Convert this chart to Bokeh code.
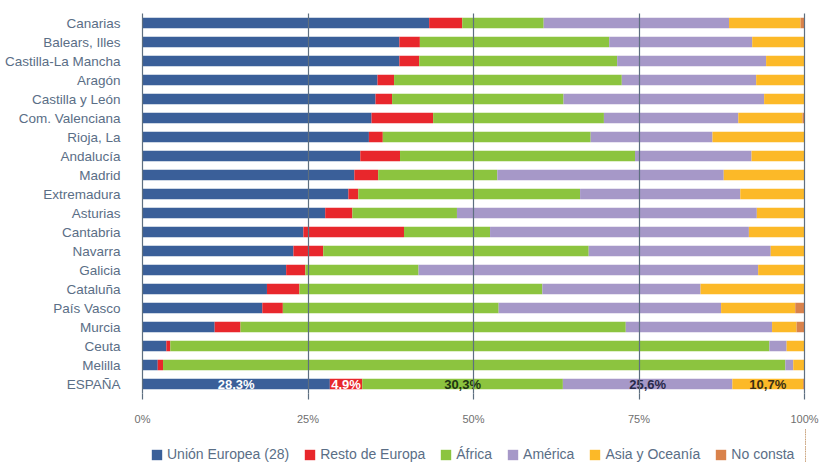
from bokeh.plotting import figure
from bokeh.layouts import column
from bokeh.models import ColumnDataSource, Range1d, FixedTicker, Legend, LegendItem
from bokeh.core.properties import value
from bokeh.embed import file_html
from bokeh.resources import INLINE

categories = ["Canarias", "Balears, Illes", "Castilla-La Mancha", "Aragón", "Castilla y León",
              "Com. Valenciana", "Rioja, La", "Andalucía", "Madrid", "Extremadura", "Asturias",
              "Cantabria", "Navarra", "Galicia", "Cataluña", "País Vasco", "Murcia", "Ceuta",
              "Melilla", "ESPAÑA"]

series_names = ["Unión Europea (28)", "Resto de Europa", "África", "América", "Asia y Oceanía", "No consta"]

union_europea = [43.3, 38.8, 38.8, 35.5, 35.2, 34.6, 34.2, 32.9, 32.0, 31.1, 27.6, 24.3, 22.8, 21.7, 18.8, 18.1, 10.9, 3.6, 2.3, 28.3]
resto_europa = [5.0, 3.1, 3.0, 2.5, 2.5, 9.3, 2.1, 6.0, 3.6, 1.5, 4.1, 15.2, 4.5, 2.9, 4.9, 3.1, 3.9, 0.6, 0.8, 4.9]
africa = [12.3, 28.6, 29.9, 34.4, 25.9, 25.8, 31.4, 35.5, 18.0, 33.5, 15.8, 13.0, 40.1, 17.1, 36.7, 32.6, 58.2, 90.5, 94.0, 30.3]
america = [28.0, 21.6, 22.5, 20.3, 30.3, 20.3, 18.4, 17.6, 34.2, 24.2, 45.3, 39.1, 27.5, 51.3, 23.9, 33.6, 22.1, 2.6, 1.2, 25.6]
asia_oceania = [10.8, 7.9, 5.8, 7.3, 6.1, 9.7, 13.9, 8.0, 12.2, 9.7, 7.2, 8.4, 5.1, 7.0, 15.7, 11.2, 3.7, 2.7, 1.7, 10.7]
no_consta = [0.6, 0.0, 0.0, 0.0, 0.0, 0.3, 0.0, 0.0, 0.0, 0.0, 0.0, 0.0, 0.0, 0.0, 0.0, 1.4, 1.2, 0.0, 0.0, 0.2]

espana_labels = ["28,3%", "4,9%", "30,3%", "25,6%", "10,7%"]
tick_values = [0, 25, 50, 75, 100]
tick_labels = ["0%", "25%", "50%", "75%", "100%"]

colors = ["#3a5f99", "#e8272c", "#8cc43f", "#a698c8", "#fcb928", "#d9824b"]
label_colors = ["#ffffff", "#ffffff", "#1e3512", "#28294a", "#3a2f14"]
slate = "#5e6f80"
text_col = "#5a6e86"

keys = ["ue", "re", "af", "am", "as", "nc"]
data = dict(cat=categories, ue=union_europea, re=resto_europa, af=africa,
            am=america, **{"as": asia_oceania}, nc=no_consta)
source = ColumnDataSource(data)

# ---------------- main chart ----------------
p = figure(width=823, height=428, y_range=list(reversed(categories)),
           x_range=Range1d(0, 100.15), output_backend="svg", toolbar_location=None,
           min_border_left=142, min_border_right=18, min_border_top=13, min_border_bottom=35)
p.outline_line_color = None

p.hbar_stack(keys, y="cat", height=0.54, color=colors, line_color=None, source=source)

# labels for the ESPAÑA bar, centred in each segment
esp = categories.index("ESPAÑA")
vals = [union_europea[esp], resto_europa[esp], africa[esp], america[esp], asia_oceania[esp]]
centers = []
acc = 0.0
for v in vals:
    centers.append(acc + v / 2)
    acc += v
lab_src = ColumnDataSource(dict(x=centers, y=["ESPAÑA"] * 5, t=espana_labels, c=label_colors))
p.text(x="x", y="y", text="t", text_color="c", source=lab_src, text_align="center",
       text_baseline="middle", text_font=value("Liberation Sans"), text_font_size="13px",
       text_font_style="bold")

# grid (on top of the bars)
p.ygrid.grid_line_color = None
p.xgrid.ticker = FixedTicker(ticks=tick_values)
p.xgrid.grid_line_color = slate
p.xgrid.grid_line_width = 1.2
p.xgrid.level = "overlay"

xa = p.xaxis[0]
xa.ticker = FixedTicker(ticks=tick_values)
xa.major_label_overrides = {t: l for t, l in zip(tick_values, tick_labels)}
xa.axis_line_color = None
xa.major_tick_line_color = slate
xa.major_tick_line_width = 1.2
xa.major_tick_out = 6
xa.major_tick_in = 0
xa.minor_tick_line_color = None
xa.major_label_standoff = 13
xa.major_label_text_font = "Liberation Sans"
xa.major_label_text_font_size = "11px"
xa.major_label_text_color = "#6f6f6f"

ya = p.yaxis[0]
ya.axis_line_color = slate
ya.axis_line_width = 1.2
ya.major_tick_line_color = None
ya.minor_tick_line_color = None
ya.major_label_standoff = 16
ya.major_label_text_font = "Liberation Sans"
ya.major_label_text_font_size = "13.5px"
ya.major_label_text_color = text_col

# ---------------- legend strip ----------------
pl = figure(width=823, height=34, y_range=list(reversed(categories)),
            x_range=Range1d(-2, -1), output_backend="svg", toolbar_location=None,
            min_border=0)
pl.outline_line_color = None
pl.axis.visible = False
pl.grid.visible = False
leg_renderers = pl.hbar_stack(keys, y="cat", height=0.54, color=colors, line_color=None, source=source)

items = [LegendItem(label=n, renderers=[r]) for n, r in zip(series_names, leg_renderers)]
legend = Legend(items=items, orientation="horizontal", location=(8, 0),
                glyph_width=13, glyph_height=13, label_standoff=4, spacing=14,
                padding=0, margin=0, border_line_color=None, background_fill_alpha=0,
                label_text_font="Liberation Sans", label_text_font_size="14px",
                label_text_color=text_col)
pl.add_layout(legend, "center")

layout = column(p, pl)
open("out.html", "w").write(file_html(layout, INLINE))
